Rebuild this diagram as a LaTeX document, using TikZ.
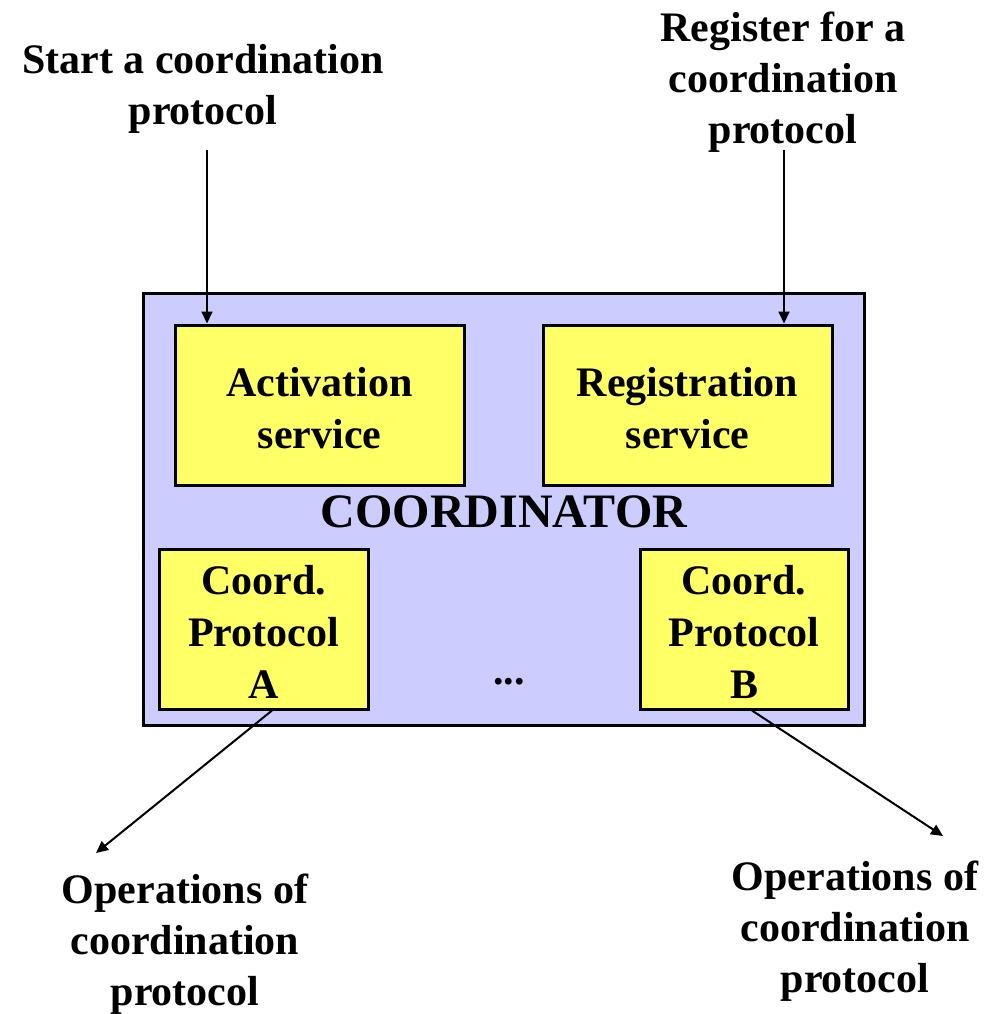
\documentclass[tikz,border=0pt]{standalone}
\usepackage{fontspec}
\setmainfont{Liberation Serif}
\usetikzlibrary{arrows.meta}
\definecolor{coordblue}{RGB}{204,204,255}
\definecolor{svcyellow}{RGB}{255,255,102}
\begin{document}
\begin{tikzpicture}[x=1pt,y=-1pt,
  lbl/.style={align=center,font=\fontsize{42}{51}\selectfont\bfseries,inner sep=0pt},
  svcbox/.style={draw=black,line width=3pt,fill=svcyellow,inner sep=0pt},
  boxtxt/.style={align=center,font=\fontsize{42}{52}\selectfont\bfseries,inner sep=0pt},
  outerbox/.style={draw=black,line width=3pt,fill=coordblue,inner sep=0pt},
  arr/.style={line width=2pt,-{Triangle[length=12pt,width=11pt]}}]
\useasboundingbox (0,0) rectangle (1003,1014);
\node[outerbox,minimum width=721pt,minimum height=432pt] (coord) at (503.5,509) {};
\node[svcbox,minimum width=289pt,minimum height=160pt] (act) at (319.5,405) {};
\node[svcbox,minimum width=289pt,minimum height=160pt] (reg) at (687.5,405) {};
\node[svcbox,minimum width=209pt,minimum height=160pt] (pa) at (263.5,629) {};
\node[svcbox,minimum width=208pt,minimum height=160pt] (pb) at (744,629) {};
\node[boxtxt] (acttxt) at ([yshift=-3pt]act.center) {Activation\\service};
\node[boxtxt] (regtxt) at ([yshift=-3pt]reg.center) {Registration\\service};
\node[boxtxt] (patxt) at ([yshift=-3pt]pa.center) {Coord.\\Protocol\\A};
\node[boxtxt] (pbtxt) at ([yshift=-3pt]pb.center) {Coord.\\Protocol\\B};
\node[anchor=base,font=\fontsize{48}{56}\selectfont\bfseries,inner sep=0pt] (ctitle) at (504,527) {COORDINATOR};
\node[anchor=base,font=\fontsize{42}{50}\selectfont\bfseries,inner sep=0pt] (dots) at (509,684) {...};
\node[lbl] (lstart) at (203,89) {Start a coordination\\protocol};
\node[lbl] (lreg) at (783,82) {Register for a\\coordination\\protocol};
\node[lbl] (lopa) at (185,944) {Operations of\\coordination\\protocol};
\node[lbl] (lopb) at (855,931) {Operations of\\coordination\\protocol};
\coordinate (s1) at (207,150);
\coordinate (s2) at (784,150);
\coordinate (ea) at (96,853);
\coordinate (eb) at (943,836);
\draw[arr] (s1) -- (s1 |- act.north);
\draw[arr] (s2) -- (s2 |- reg.north);
\draw[arr] ([xshift=8.5pt]pa.south) -- (ea);
\draw[arr] ([xshift=8pt]pb.south) -- (eb);
\end{tikzpicture}
\end{document}
